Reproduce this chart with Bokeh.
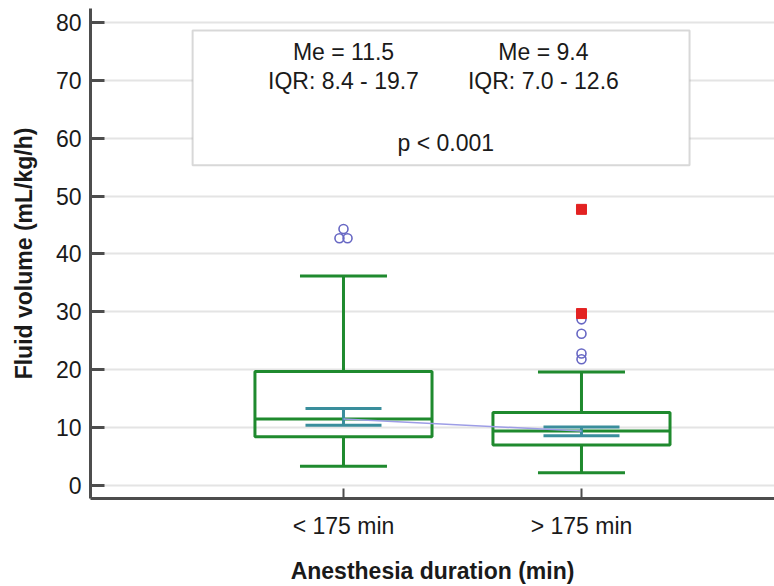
from bokeh.plotting import figure
from bokeh.models import (Range1d, FixedTicker, Whisker, TeeHead, ColumnDataSource,
                          BoxAnnotation, Label)
from bokeh.embed import file_html
from bokeh.resources import INLINE

# ---- data ----
groups = ["< 175 min", "> 175 min"]
positions = [1, 2]
q1 = [8.4, 7.0]
median = [11.5, 9.4]
q3 = [19.7, 12.6]
whisker_low = [3.3, 2.2]
whisker_high = [36.2, 19.6]
ci_low = [10.4, 8.6]
ci_high = [13.3, 10.1]
outliers_g1 = [44.3, 42.7, 42.7]
outliers_g1_dx = [0.0, -0.017, 0.017]
outliers_g2 = [28.7, 26.2, 22.8, 21.8]
far_outliers_g2 = [47.7, 29.7]
p_text = "p < 0.001"
y_ticks = [0, 10, 20, 30, 40, 50, 60, 70, 80]

FONT = "Liberation Sans"
GREEN = "#1f8a2e"
TEAL = "#3a8e9c"
BOX_W = 0.744
FS = "23px"

p = figure(width=774, height=586, output_backend="svg", toolbar_location=None,
           title=None, x_range=Range1d(-0.063, 2.811), y_range=Range1d(-2.25, 82.4),
           min_border_left=90, min_border_right=0, min_border_top=8, min_border_bottom=88)
p.outline_line_color = None
p.background_fill_color = "white"

# axes
for ax in (p.xaxis[0], p.yaxis[0]):
    ax.axis_line_color = "#4d4d4d"
    ax.axis_line_width = 3
    ax.major_tick_line_color = "#4d4d4d"
    ax.major_tick_out = 0
    ax.minor_tick_line_color = None
    ax.major_label_text_font = FONT
    ax.major_label_text_font_size = FS
    ax.major_label_text_color = "#1a1a1a"
    ax.axis_label_text_font = FONT
    ax.axis_label_text_font_style = "bold"
    ax.axis_label_text_font_size = FS
    ax.axis_label_text_color = "#1a1a1a"

p.yaxis.ticker = FixedTicker(ticks=y_ticks)
p.yaxis.major_tick_in = 14
p.yaxis.major_tick_line_width = 3
p.yaxis.major_label_standoff = 9
p.yaxis.axis_label = "Fluid volume (mL/kg/h)"
p.yaxis.axis_label_standoff = 16

p.xaxis.ticker = FixedTicker(ticks=positions)
p.xaxis.major_label_overrides = {pos: g for pos, g in zip(positions, groups)}
p.xaxis.major_tick_in = 10
p.xaxis.major_tick_line_width = 2
p.xaxis.major_label_standoff = 14
p.xaxis.axis_label = "Anesthesia duration (min)"
p.xaxis.axis_label_standoff = 16

p.xgrid.grid_line_color = None
p.ygrid.grid_line_color = "#e4e4e4"
p.ygrid.grid_line_width = 2

src = ColumnDataSource(dict(x=positions, q1=q1, med=median, q3=q3,
                            lo=whisker_low, hi=whisker_high, cil=ci_low, cih=ci_high,
                            x0=[x - BOX_W / 2 for x in positions],
                            x1=[x + BOX_W / 2 for x in positions]))

# whiskers
p.add_layout(Whisker(source=src, base="x", lower="q3", upper="hi",
                     lower_head=None,
                     upper_head=TeeHead(size=87, line_color=GREEN, line_width=3),
                     line_color=GREEN, line_width=3, level="glyph"))
p.add_layout(Whisker(source=src, base="x", lower="lo", upper="q1",
                     upper_head=None,
                     lower_head=TeeHead(size=87, line_color=GREEN, line_width=3),
                     line_color=GREEN, line_width=3, level="glyph"))

# boxes
p.vbar(x="x", width=BOX_W, top="q3", bottom="q1", source=src,
       fill_color=None, line_color=GREEN, line_width=3)
p.segment(x0="x0", x1="x1", y0="med", y1="med", source=src,
          line_color=GREEN, line_width=3)

# confidence interval of median
p.add_layout(Whisker(source=src, base="x", lower="cil", upper="cih",
                     lower_head=TeeHead(size=76, line_color=TEAL, line_width=3),
                     upper_head=TeeHead(size=76, line_color=TEAL, line_width=3),
                     line_color=TEAL, line_width=3, level="annotation"))

# line connecting medians
p.line(positions, median, line_color="#9d9de6", line_width=1.5, level="overlay")

# outliers
p.scatter([positions[0] + d for d in outliers_g1_dx], outliers_g1, marker="circle",
          size=9, fill_color=None, line_color="#6868c4", line_width=1.6)
p.scatter([positions[1]] * len(outliers_g2), outliers_g2, marker="circle",
          size=9, fill_color=None, line_color="#6868c4", line_width=1.6)
p.scatter([positions[1]] * len(far_outliers_g2), far_outliers_g2, marker="square",
          size=10, fill_color="#e32222", line_color="#e32222")

# annotation box
p.add_layout(BoxAnnotation(left=0.366, right=2.454, bottom=55.3, top=78.6,
                           fill_color="white", fill_alpha=1.0,
                           line_color="#7d7d7d", line_width=2, level="annotation"))
col_x = [1.0, 1.84]
for cx, me, a, b in zip(col_x, median, q1, q3):
    p.add_layout(Label(x=cx, y=74.8, text=f"Me = {me}", text_align="center",
                       text_baseline="middle", text_font=FONT, text_font_size=FS,
                       text_color="#1a1a1a"))
    p.add_layout(Label(x=cx, y=69.9, text=f"IQR: {a:.1f} - {b:.1f}", text_align="center",
                       text_baseline="middle", text_font=FONT, text_font_size=FS,
                       text_color="#1a1a1a"))
p.add_layout(Label(x=1.43, y=59.1, text=p_text, text_align="center",
                   text_baseline="middle", text_font=FONT, text_font_size=FS,
                   text_color="#1a1a1a"))

open("out.html", "w").write(file_html(p, INLINE))
